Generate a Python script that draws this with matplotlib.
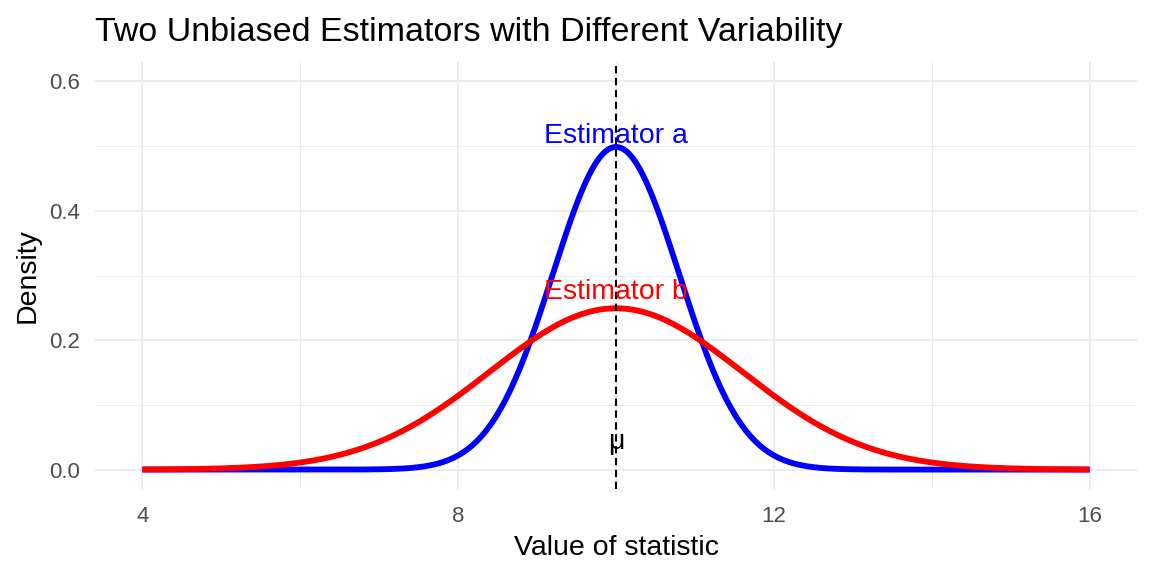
import matplotlib.pyplot as plt
import numpy as np

# distribution parameters of the two estimators
mu = 10
sd_a = 0.8
sd_b = 1.6
x_range = [4, 16]
x_ticks = [4, 8, 12, 16]
y_ticks = [0.0, 0.2, 0.4, 0.6]

labels = ['Estimator a', 'Estimator b']
label_y = [0.516, 0.275]
colors = ['blue', 'red']

plt.rcParams['font.family'] = ['Liberation Sans', 'DejaVu Sans']

x = np.linspace(x_range[0], x_range[1], 400)
dens_a = np.exp(-0.5 * ((x - mu) / sd_a) ** 2) / (sd_a * np.sqrt(2 * np.pi))
dens_b = np.exp(-0.5 * ((x - mu) / sd_b) ** 2) / (sd_b * np.sqrt(2 * np.pi))

fig = plt.figure(figsize=(11.52, 5.76), dpi=100)
ax = fig.add_axes([95 / 1152, 1 - 489 / 576, (1137 - 95) / 1152, (489 - 62) / 576])

ax.plot(x, dens_a, color=colors[0], lw=4.2, solid_capstyle='butt')
ax.plot(x, dens_b, color=colors[1], lw=4.2, solid_capstyle='butt')
ax.axvline(mu, color='black', lw=1.5, ls=(0, (3.5, 2.2)))

for lab, ly, c in zip(labels, label_y, colors):
    ax.text(mu, ly, lab, color=c, ha='center', va='center', fontsize=20.5)
ax.text(mu, 0.042, 'μ', color='black', ha='center', va='center', fontsize=20.5)

ax.set_xlim(3.4, 16.6)
ax.set_ylim(-0.03, 0.63)
ax.set_xticks(x_ticks)
ax.set_yticks(y_ticks)
ax.set_yticklabels([f'{v:.1f}' for v in y_ticks])
ax.set_xticks([6, 10, 14], minor=True)
ax.set_yticks([0.1, 0.3, 0.5], minor=True)

ax.grid(True, which='major', color='#ebebeb', lw=1.3)
ax.grid(True, which='minor', color='#ebebeb', lw=0.7)
ax.set_axisbelow(True)
for s in ax.spines.values():
    s.set_visible(False)
ax.tick_params(which='both', length=0, labelsize=16, labelcolor='#4d4d4d')
ax.tick_params(axis='x', pad=12)
ax.tick_params(axis='y', pad=11)

ax.set_xlabel('Value of statistic', fontsize=20.5, labelpad=6)
ax.set_ylabel('Density', fontsize=20.5)
ax.yaxis.set_label_coords(-0.052, 0.5)
fig.text(95 / 1152, 1 - 32 / 576, 'Two Unbiased Estimators with Different Variability',
         fontsize=24.5, ha='left', va='center')

fig.savefig('out.png', dpi=100)
